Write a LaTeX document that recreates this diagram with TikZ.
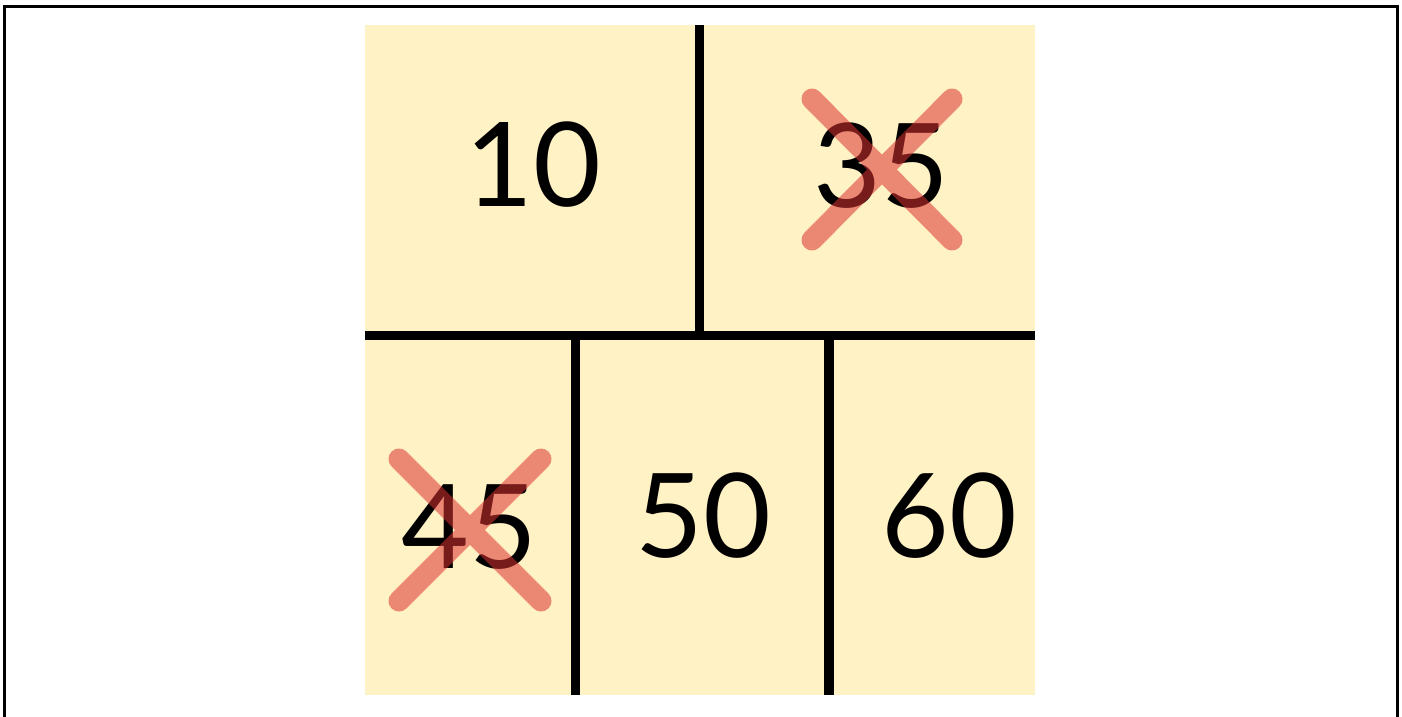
\documentclass[tikz,border=0pt]{standalone}
\usepackage{fontspec}
\setmainfont{Lato}
\definecolor{cellyellow}{RGB}{255,242,196}
\definecolor{crossred}{RGB}{220,50,50}
\begin{document}
\begin{tikzpicture}[x=1pt,y=-1pt,
  numlabel/.style={inner sep=0pt,font=\fontsize{117}{117}\selectfont,text=black},
  divider/.style={line width=9.5pt,black},
  crossline/.style={line width=21pt,crossred,opacity=0.55,line cap=round}]
\useasboundingbox (0,0) rectangle (1402,717);
% outer frame (open at bottom)
\draw[line width=3pt,black] (4.5,717) -- (4.5,6.5) -- (1397.5,6.5) -- (1397.5,717);
% yellow panel
\fill[cellyellow] (365,25) rectangle (1035,695);
% divider coordinates
\coordinate (hl) at (365,335.5);
\coordinate (hr) at (1035,335.5);
\coordinate (vt1) at (699.5,25);
\coordinate (vb1) at (699.5,335.5);
\coordinate (vt2) at (575.5,335.5);
\coordinate (vb2) at (575.5,695);
\coordinate (vt3) at (829,335.5);
\coordinate (vb3) at (829,695);
\draw[divider] (hl) -- (hr);
\draw[divider] (vt1) -- (vb1);
\draw[divider] (vt2) -- (vb2);
\draw[divider] (vt3) -- (vb3);
% numbers
\node[numlabel] (n10) at (533,165) {10};
\node[numlabel] (n35) at (881,166) {35};
\node[numlabel] (n45) at (469,527) {45};
\node[numlabel] (n50) at (703,516) {50};
\node[numlabel] (n60) at (949,516) {60};
% crosses (one path each so the overlap is not doubled)
\coordinate (a1) at (812,99);
\coordinate (a2) at (952,240);
\coordinate (a3) at (952,99);
\coordinate (a4) at (812,240);
\draw[crossline] (a1) -- (a2) (a3) -- (a4);
\coordinate (b1) at (399,459);
\coordinate (b2) at (541,601);
\coordinate (b3) at (541,459);
\coordinate (b4) at (399,601);
\draw[crossline] (b1) -- (b2) (b3) -- (b4);
\end{tikzpicture}
\end{document}
